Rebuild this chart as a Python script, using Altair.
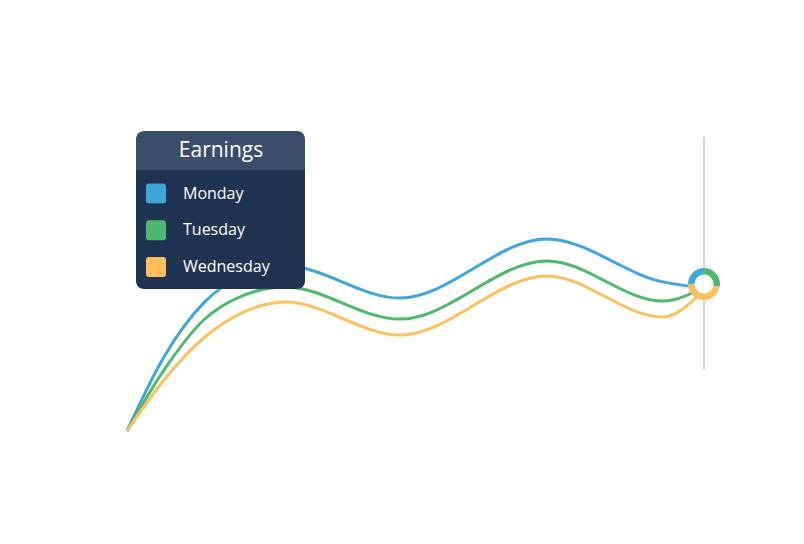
import altair as alt
import pandas as pd

# ---- data ----
days = ["Monday", "Tuesday", "Wednesday"]
colors = ["#3ea6d9", "#4cb96c", "#fcc15c"]
x_vals = [0, 0.64, 1.33, 2.03, 2.74, 4.73, 7.28, 9.29, 10]
monday = [0, 24.7, 42.7, 52, 55, 44.3, 64, 49.7, 47.7]
tuesday = [0, 20.3, 37, 45.3, 48, 37.3, 56.7, 43.3, 48]
wednesday = [0, 17, 31, 39.7, 43, 32, 51.7, 38, 47]
# hover donut at the last x position
slice_days = ["Tuesday", "Wednesday", "Monday"]
slice_deg = [100, 170, 90]
hover_x = 10
hover_y = 49
legend_title = "Earnings"

rows = []
for day, series in zip(days, [monday, tuesday, wednesday]):
    for x, v in zip(x_vals, series):
        rows.append({"day": day, "x": x, "value": v})
df_lines = pd.DataFrame(rows)

df_pie = pd.DataFrame({
    "day": slice_days,
    "deg": slice_deg,
    "ord": list(range(len(slice_days))),
    "x": [hover_x] * len(slice_days),
    "value": [hover_y] * len(slice_days),
})
df_hover = pd.DataFrame({"x": [hover_x], "value": [hover_y]})
df_leg = pd.DataFrame({"day": days})

xscale = alt.Scale(domain=[0, 10], range=[127, 704])
yscale = alt.Scale(domain=[0, 100], range=[431, 131])
cscale = alt.Scale(domain=days, range=colors)
X = alt.X("x:Q", scale=xscale, axis=None)
Y = alt.Y("value:Q", scale=yscale, axis=None)
LEG_Y = alt.Y("day:N", scale=alt.Scale(domain=days, range=[193.5, 267], padding=0), axis=None)

rounded_square = ("M-0.7,-1L0.7,-1Q1,-1 1,-0.7L1,0.7Q1,1 0.7,1L-0.7,1"
                  "Q-1,1 -1,0.7L-1,-0.7Q-1,-1 -0.7,-1Z")

rule = alt.Chart(df_hover).mark_rule(color="#d4d4d4", strokeWidth=2).encode(
    x=X, y=alt.value(137), y2=alt.value(370)
)

lines = alt.Chart(df_lines).mark_line(interpolate="monotone", strokeWidth=3).encode(
    x=X, y=Y,
    stroke=alt.Stroke("day:N", scale=cscale, legend=None),
    detail="day:N",
)

hole = alt.Chart(df_hover).mark_circle(size=400, color="white", opacity=1).encode(x=X, y=Y)

donut = alt.Chart(df_pie).mark_arc(outerRadius=16, innerRadius=9.5).encode(
    x=X, y=Y,
    theta=alt.Theta("deg:Q", stack=True),
    order=alt.Order("ord:Q"),
    color=alt.Color("day:N", scale=cscale, legend=None),
)

box_data = alt.Data(values=[{}])
header = alt.Chart(box_data).mark_rect(
    color="#3a4e6b", cornerRadiusTopLeft=8, cornerRadiusTopRight=8
).encode(x=alt.value(136), x2=alt.value(305), y=alt.value(131), y2=alt.value(170))
body = alt.Chart(box_data).mark_rect(
    color="#1f3352", cornerRadiusBottomLeft=8, cornerRadiusBottomRight=8
).encode(x=alt.value(136), x2=alt.value(305), y=alt.value(170), y2=alt.value(289))
title = alt.Chart(alt.Data(values=[{"t": legend_title}])).mark_text(
    color="white", font="Open Sans", fontSize=21, align="center", baseline="middle"
).encode(x=alt.value(221), y=alt.value(151), text="t:N")

leg_squares = alt.Chart(df_leg).mark_point(
    shape=rounded_square, filled=True, size=400, opacity=1, strokeWidth=0
).encode(
    x=alt.value(156), y=LEG_Y,
    color=alt.Color("day:N", scale=cscale, legend=None),
)
leg_labels = alt.Chart(df_leg).mark_text(
    align="left", baseline="middle", font="Open Sans", fontSize=16, color="white"
).encode(x=alt.value(183), y=LEG_Y, text="day:N")

chart = alt.layer(
    rule, lines, hole, donut, header, body, title, leg_squares, leg_labels
).resolve_scale(y="independent").properties(
    width=804, height=544, padding=0,
    autosize=alt.AutoSizeParams(type="none"),
    background="white",
).configure_view(strokeWidth=0)

chart.save("out.html", embed_options={"renderer": "svg", "actions": False})
